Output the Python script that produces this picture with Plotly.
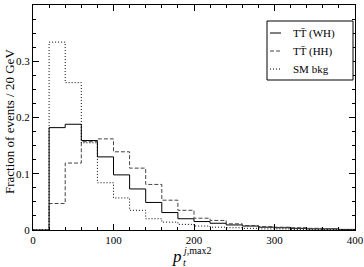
import plotly.graph_objects as go

# Bin edges (GeV), 20 GeV bins from 0 to 400
bin_edges = list(range(0, 420, 20))

# Fraction of events per 20 GeV bin
tt_wh = [0.0, 0.182, 0.188, 0.159, 0.130, 0.098, 0.073, 0.049, 0.031, 0.020,
         0.015, 0.012, 0.009, 0.007, 0.005, 0.004, 0.003, 0.002, 0.002, 0.001]
tt_hh = [0.0, 0.047, 0.119, 0.157, 0.162, 0.139, 0.110, 0.081, 0.053, 0.035,
         0.021, 0.017, 0.011, 0.008, 0.006, 0.005, 0.004, 0.003, 0.002, 0.001]
sm_bkg = [0.0, 0.334, 0.262, 0.155, 0.084, 0.057, 0.035, 0.020, 0.014, 0.010,
          0.007, 0.005, 0.004, 0.003, 0.002, 0.002, 0.001, 0.001, 0.001, 0.0005]

series_names = ["TT\u0304 (WH)", "TT\u0304 (HH)", "SM bkg"]

x_ticks = [0, 100, 200, 300, 400]
y_ticks = [0, 0.1, 0.2, 0.3, 0.4]
y_ticktext = ["0", "0.1", "0.2", "0.3", "0.4"]

FONT = "Liberation Serif, Times New Roman, serif"

# plot-area pixel geometry (for paper-coordinate annotations)
W, H = 364, 267
ML, MR, MT, MB = 33, 9, 5, 37
PW = W - ML - MR
PH = H - MT - MB


def px_to_paper(px, py):
    return (px - ML) / PW, (H - MB - py) / PH


styles = [dict(color="black", dash="solid", width=1),
          dict(color="#444444", dash="4px,2px", width=1),
          dict(color="black", dash="1px,2px", width=1)]

fig = go.Figure()
for name, vals, st in zip(series_names, [tt_wh, tt_hh, sm_bkg], styles):
    fig.add_trace(go.Scatter(
        x=bin_edges, y=vals + [vals[-1]], mode="lines", name=name,
        line=dict(shape="hv", **st), showlegend=False,
    ))

axis_common = dict(
    showline=True, linecolor="black", linewidth=1, mirror="ticks",
    ticks="inside", ticklen=6, tickcolor="black", tickwidth=1,
    showgrid=False, zeroline=False, automargin=False,
    tickfont=dict(family=FONT, size=11, color="black"),
)

fig.update_xaxes(range=[0, 400], tickvals=x_ticks,
                 minor=dict(dtick=20, ticks="inside", ticklen=3, tickcolor="black"),
                 **axis_common)
fig.update_yaxes(range=[0, 0.4], tickvals=y_ticks, ticktext=y_ticktext,
                 minor=dict(dtick=0.025, ticks="inside", ticklen=3, tickcolor="black"),
                 **axis_common)

annots = []
shapes = []
# y-axis title
ax, ay = px_to_paper(9, 122)
annots.append(dict(text="Fraction of events / 20 GeV", x=ax, y=ay, xref="paper", yref="paper",
                   textangle=-90, showarrow=False, xanchor="center", yanchor="middle",
                   font=dict(family=FONT, size=13, color="black")))
# x-axis title: p_t^{j,max2}
ax, ay = px_to_paper(176.5, 256)
annots.append(dict(text="<i>p</i>", x=ax, y=ay, xref="paper", yref="paper", showarrow=False,
                   xanchor="center", yanchor="middle", font=dict(family=FONT, size=17, color="black")))
ax, ay = px_to_paper(180.5, 262)
annots.append(dict(text="<i>t</i>", x=ax, y=ay, xref="paper", yref="paper", showarrow=False,
                   xanchor="left", yanchor="middle", font=dict(family=FONT, size=10, color="black")))
ax, ay = px_to_paper(180, 250.5)
annots.append(dict(text="<i>j</i>,max2", x=ax, y=ay, xref="paper", yref="paper", showarrow=False,
                   xanchor="left", yanchor="middle", font=dict(family=FONT, size=10, color="black")))

# legend box (drawn manually to match the compact reference legend)
x0, y0 = px_to_paper(267, 21)
x1, y1 = px_to_paper(353, 80)
shapes.append(dict(type="rect", xref="paper", yref="paper", x0=x0, y0=y0, x1=x1, y1=y1,
                   line=dict(color="black", width=1), fillcolor="white", layer="above"))
row_y = [33, 51, 69]
for name, st, ry in zip(series_names, styles, row_y):
    sx0, sy = px_to_paper(270, ry)
    sx1, _ = px_to_paper(281, ry)
    shapes.append(dict(type="line", xref="paper", yref="paper", x0=sx0, x1=sx1, y0=sy, y1=sy,
                       line=dict(color=st["color"], dash=st["dash"], width=1), layer="above"))
    tx, ty = px_to_paper(291, ry)
    annots.append(dict(text=name, x=tx, y=ty, xref="paper", yref="paper", showarrow=False,
                       xanchor="left", yanchor="middle",
                       font=dict(family=FONT, size=11, color="black")))

fig.update_layout(
    template="none",
    width=W, height=H,
    margin=dict(l=ML, r=MR, t=MT, b=MB, autoexpand=False),
    paper_bgcolor="white", plot_bgcolor="white",
    showlegend=False,
    annotations=annots,
    shapes=shapes,
)

fig.write_html("out.html",
               config={"displayModeBar": False, "staticPlot": True},
               post_script="document.body.style.margin='0';document.body.style.overflow='hidden';")
